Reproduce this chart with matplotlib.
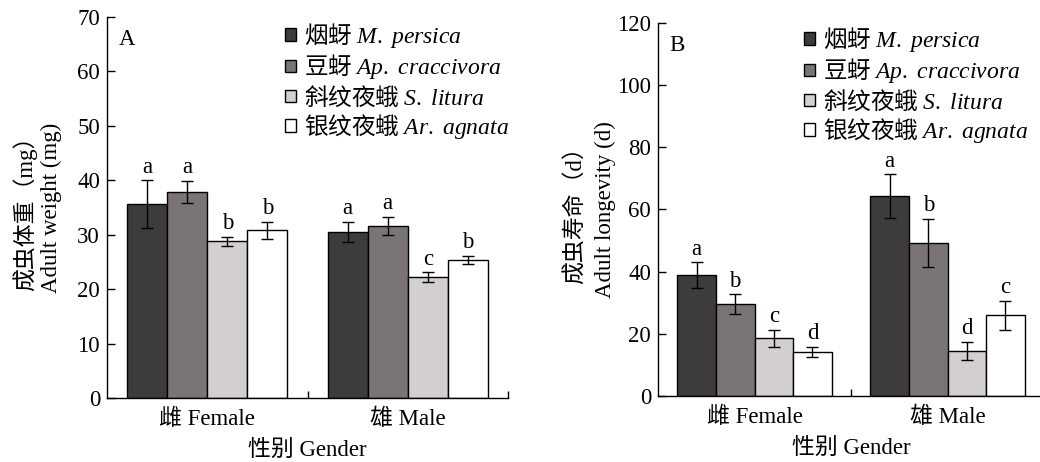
import numpy as np
import matplotlib.pyplot as plt
from matplotlib.patches import Patch

plt.rcParams['font.family'] = ['Liberation Serif', 'Noto Sans CJK SC']
plt.rcParams['mathtext.fontset'] = 'custom'
plt.rcParams['mathtext.it'] = 'Liberation Serif:italic'
plt.rcParams['mathtext.rm'] = 'Liberation Serif'

groups = ['雌 Female', '雄 Male']
species_cn = ['烟蚜', '豆蚜', '斜纹夜蛾', '银纹夜蛾']
species_latin = ['M.\\ persica', 'Ap.\\ craccivora', 'S.\\ litura', 'Ar.\\ agnata']
colors = ['#3e3b3f', '#7a7478', '#d2ced2', '#ffffff']

# panel A: adult weight (mg), rows = species, cols = Female, Male
weight_mean = [[35.6, 30.5], [37.9, 31.6], [28.8, 22.2], [30.8, 25.4]]
weight_err = [[4.4, 1.8], [2.0, 1.7], [0.8, 0.9], [1.6, 0.7]]
weight_sig = [['a', 'a'], ['a', 'a'], ['b', 'c'], ['b', 'b']]

# panel B: adult longevity (d)
life_mean = [[38.9, 64.3], [29.6, 49.2], [18.5, 14.4], [14.2, 26.0]]
life_err = [[4.1, 7.0], [3.1, 7.8], [2.7, 2.9], [1.7, 4.7]]
life_sig = [['a', 'a'], ['b', 'b'], ['c', 'd'], ['d', 'c']]

fig = plt.figure(figsize=(10.4, 4.62), dpi=100)
axA = fig.add_axes([0.1029, 0.1385, 0.3856, 0.8247])
axB = fig.add_axes([0.6327, 0.1429, 0.3712, 0.8074])

fs = 16.5
width = 0.2


def draw_panel(ax, means, errs, sigs, ymax, ystep, ylabel, tag, leg_x, leg_y,
               lab_pad, lab_space):
    centers = np.array([0.5, 1.5])
    for i in range(4):
        xs = centers + (i - 1.5) * width
        ax.bar(xs, means[i], width, color=colors[i], edgecolor='black',
               linewidth=1.0, zorder=2)
        ax.errorbar(xs, means[i], yerr=errs[i], fmt='none', ecolor='black',
                    elinewidth=1.0, capsize=4.5, capthick=1.0, zorder=3)
        for j in range(2):
            ax.annotate(sigs[i][j], xy=(xs[j], means[i][j] + errs[i][j]),
                        xytext=(0, 2), textcoords='offset points',
                        ha='center', va='bottom', fontsize=fs)
    ax.set_xlim(0, 2)
    ax.set_ylim(0, ymax)
    ax.set_yticks(np.arange(0, ymax + 1, ystep))
    ax.set_xticks(centers)
    ax.set_xticklabels(groups, fontsize=fs)
    ax.set_xticks([1, 2], minor=True)
    ax.tick_params(axis='x', which='major', length=0, pad=8)
    ax.tick_params(axis='x', which='minor', direction='in', length=5, width=1)
    ax.tick_params(axis='y', direction='in', length=5.5, width=1, labelsize=fs, pad=5)
    for s in ['top', 'right']:
        ax.spines[s].set_visible(False)
    for s in ['left', 'bottom']:
        ax.spines[s].set_linewidth(1.0)
    ax.set_xlabel('性别 Gender', fontsize=fs, labelpad=7)
    ax.set_ylabel(ylabel, fontsize=fs, linespacing=lab_space, labelpad=lab_pad)
    ax.text(0.03, 0.94, tag, transform=ax.transAxes, fontsize=fs,
            ha='left', va='center')
    handles = [Patch(facecolor=c, edgecolor='black', linewidth=1.0) for c in colors]
    labels = [cn + ' $\\mathit{' + la + '}$' for cn, la in zip(species_cn, species_latin)]
    ax.legend(handles, labels, loc='upper left', bbox_to_anchor=(leg_x, leg_y),
              frameon=False, borderpad=0, borderaxespad=0, handlelength=0.45,
              handleheight=0.45, handletextpad=0.35, labelspacing=0.11,
              prop={'family': 'Noto Sans CJK SC', 'size': 17})


draw_panel(axA, weight_mean, weight_err, weight_sig, 70, 10,
           '成虫体重（mg）\nAdult weight (mg)', 'A', 0.445, 0.99, 11, 1.2)
draw_panel(axB, life_mean, life_err, life_sig, 120, 20,
           '成虫寿命（d）\nAdult longevity (d)', 'B', 0.378, 0.995, 1, 1.45)

plt.savefig('out.png', dpi=100)
